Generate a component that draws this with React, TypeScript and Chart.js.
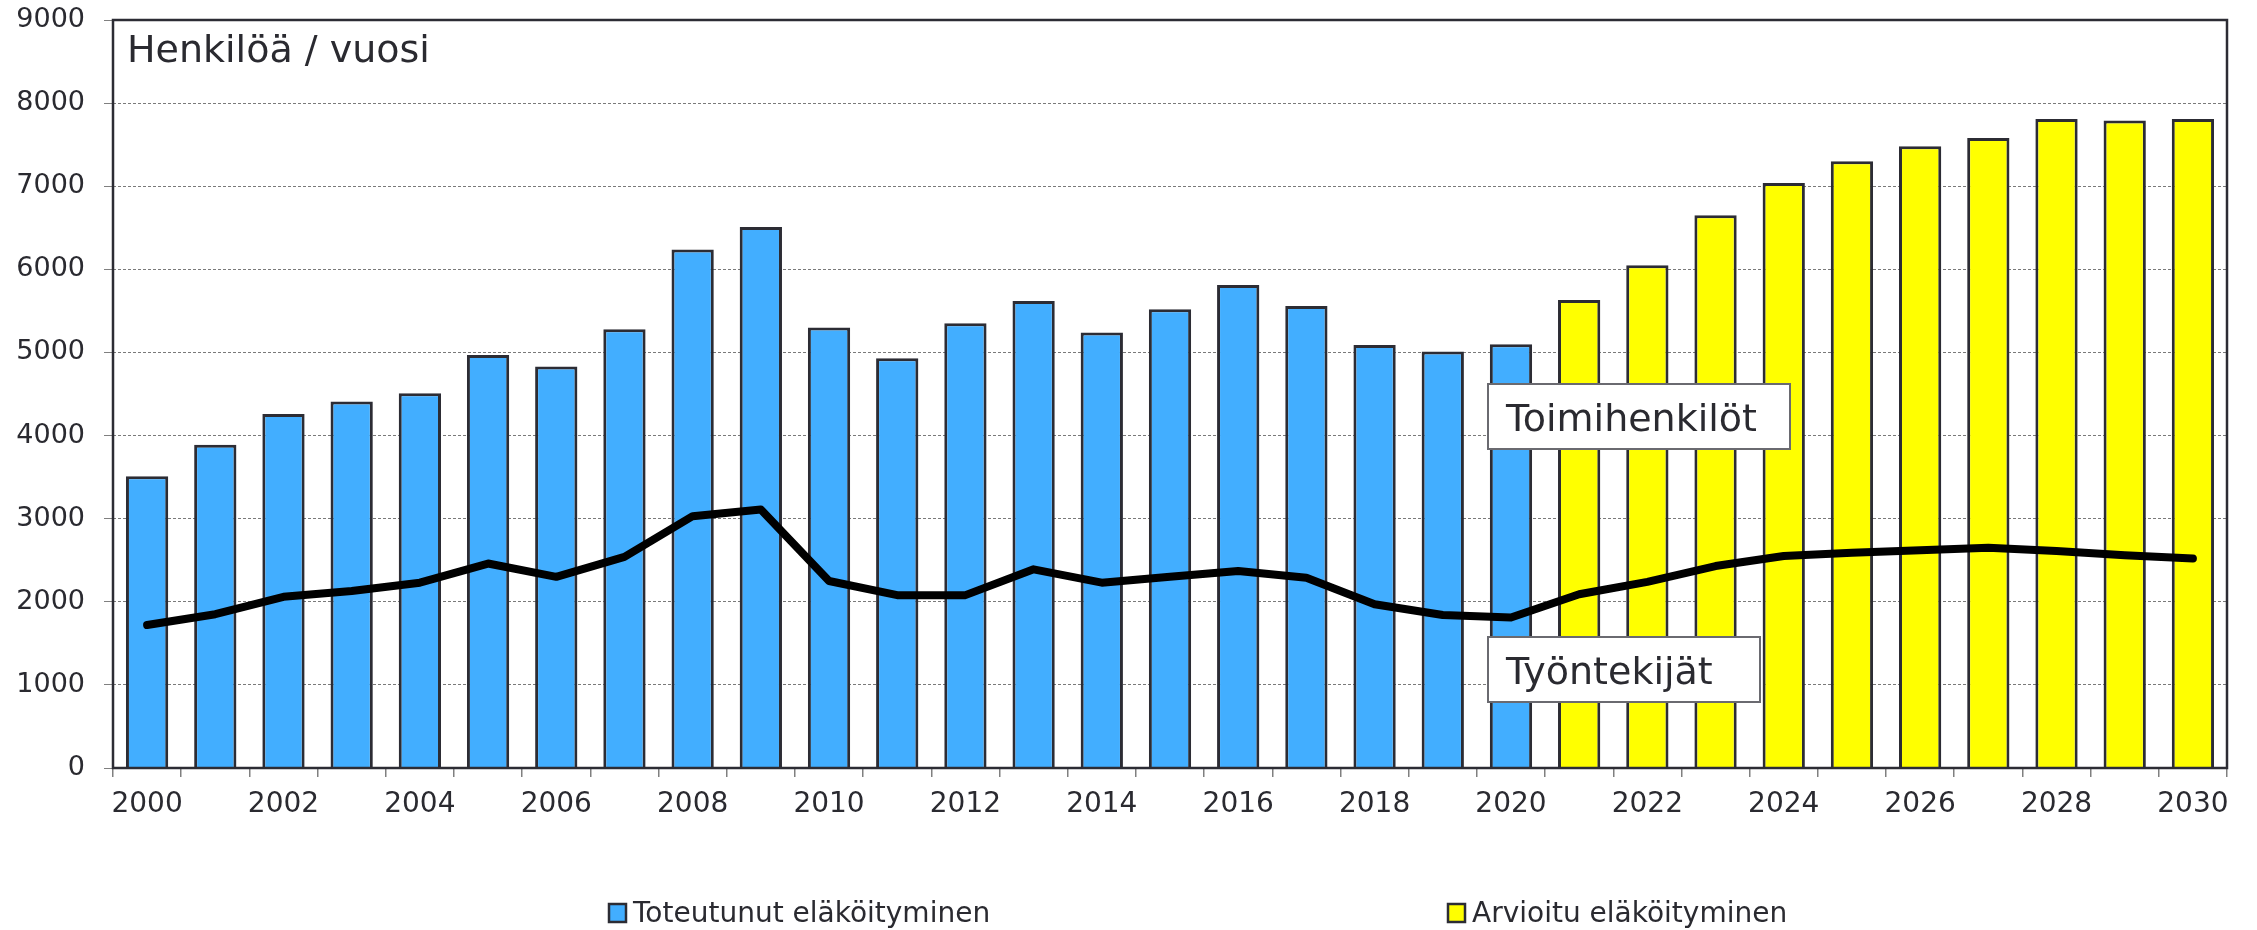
import React, { useEffect, useRef } from "react";
import { Chart, registerables } from "chart.js";

Chart.register(...registerables);

const years = [
  "2000", "2001", "2002", "2003", "2004", "2005", "2006", "2007", "2008", "2009",
  "2010", "2011", "2012", "2013", "2014", "2015", "2016", "2017", "2018", "2019",
  "2020", "2021", "2022", "2023", "2024", "2025", "2026", "2027", "2028", "2029", "2030",
];

// Toteutunut eläköityminen (2000–2020)
const actualRetirements = [
  3510, 3890, 4260, 4410, 4510, 4970, 4830, 5280, 6240, 6510,
  5300, 4930, 5350, 5620, 5240, 5520, 5810, 5560, 5090, 5010, 5100,
];

// Arvioitu eläköityminen (2021–2030)
const projectedRetirements = [5630, 6050, 6650, 7040, 7300, 7480, 7580, 7810, 7790, 7810];

// Työntekijät (line)
const workers = [
  1720, 1850, 2060, 2130, 2230, 2460, 2300, 2540, 3030, 3110,
  2250, 2080, 2080, 2390, 2230, 2300, 2370, 2290, 1970, 1840,
  1810, 2090, 2240, 2430, 2550, 2590, 2620, 2650, 2610, 2560, 2520,
];

const yTicks = [0, 1000, 2000, 3000, 4000, 5000, 6000, 7000, 8000, 9000];

const legendLabels = ["Toteutunut eläköityminen", "Arvioitu eläköityminen"];
const titleText = "Henkilöä / vuosi";
const annotationTexts = ["Toimihenkilöt", "Työntekijät"];

const BLUE = "#42AEFF";
const YELLOW = "#FFFF00";
const EDGE = "#2c2c34";
const TEXT = "#2a2a30";
const FONT = "'DejaVu Sans', Verdana, sans-serif";

export default function App() {
  const ref = useRef<HTMLCanvasElement | null>(null);

  useEffect(() => {
    if (!ref.current) return;
    const nA = actualRetirements.length;
    const actualData = years.map((_, i) => (i < nA ? actualRetirements[i] : null));
    const projData = years.map((_, i) => (i >= nA ? projectedRetirements[i - nA] : null));

    const decorPlugin = {
      id: "decor",
      afterDatasetsDraw(chart: any) {
        const { ctx, chartArea } = chart;
        ctx.save();
        ctx.strokeStyle = EDGE;
        ctx.lineWidth = 2.5;
        ctx.strokeRect(chartArea.left, chartArea.top, chartArea.right - chartArea.left, chartArea.bottom - chartArea.top);
        ctx.restore();
      },
      afterDraw(chart: any) {
        const { ctx, chartArea } = chart;
        ctx.save();
        ctx.fillStyle = TEXT;
        ctx.font = `38px ${FONT}`;
        ctx.textBaseline = "alphabetic";
        ctx.textAlign = "left";
        ctx.fillText(titleText, chartArea.left + 14, chartArea.top + 42);

        const boxes = [
          { x: 1488, y: 384, w: 302, h: 65, text: annotationTexts[0] },
          { x: 1488, y: 637, w: 272, h: 65, text: annotationTexts[1] },
        ];
        for (const b of boxes) {
          ctx.fillStyle = "#ffffff";
          ctx.fillRect(b.x, b.y, b.w, b.h);
          ctx.strokeStyle = "#6a6a70";
          ctx.lineWidth = 2;
          ctx.strokeRect(b.x, b.y, b.w, b.h);
          ctx.fillStyle = TEXT;
          ctx.font = `38px ${FONT}`;
          ctx.fillText(b.text, b.x + 18, b.y + 47);
        }

        const items = [
          { x: 609, color: BLUE, label: legendLabels[0] },
          { x: 1448, color: YELLOW, label: legendLabels[1] },
        ];
        ctx.font = `28px ${FONT}`;
        for (const it of items) {
          ctx.fillStyle = it.color;
          ctx.fillRect(it.x, 904, 17, 18);
          ctx.strokeStyle = EDGE;
          ctx.lineWidth = 2.5;
          ctx.strokeRect(it.x, 904, 17, 18);
          ctx.fillStyle = TEXT;
          ctx.fillText(it.label, it.x + 24, 922);
        }
        ctx.restore();
      },
    };

    const chart = new Chart(ref.current, {
      type: "bar",
      data: {
        labels: years,
        datasets: [
          {
            type: "line",
            label: annotationTexts[1],
            data: workers,
            borderColor: "#000000",
            borderWidth: 8,
            pointRadius: 0,
            tension: 0,
            borderCapStyle: "round",
            borderJoinStyle: "round",
            order: 0,
          } as any,
          {
            label: legendLabels[0],
            data: actualData,
            backgroundColor: BLUE,
            borderColor: EDGE,
            borderWidth: 3,
            grouped: false,
            barPercentage: 0.62,
            categoryPercentage: 1,
            order: 1,
          },
          {
            label: legendLabels[1],
            data: projData,
            backgroundColor: YELLOW,
            borderColor: EDGE,
            borderWidth: 3,
            grouped: false,
            barPercentage: 0.62,
            categoryPercentage: 1,
            order: 1,
          },
        ],
      },
      options: {
        responsive: false,
        animation: false,
        devicePixelRatio: 1,
        layout: { padding: { left: 0, top: 20, right: 30, bottom: 0 } },
        plugins: {
          legend: { display: false },
          tooltip: { enabled: false },
          title: { display: false },
        },
        scales: {
          x: {
            afterFit: (s: any) => {
              s.height = 162;
              s.paddingLeft = 0;
              s.paddingRight = 0;
            },
            border: { display: false },
            grid: {
              offset: true,
              drawOnChartArea: false,
              drawTicks: true,
              tickLength: 9,
              color: "#808080",
              lineWidth: 1.5,
            },
            ticks: {
              autoSkip: false,
              maxRotation: 0,
              minRotation: 0,
              padding: 11,
              color: TEXT,
              font: { family: FONT, size: 28 },
              callback: (_v: any, i: number) => (i % 2 === 0 ? years[i] : ""),
            },
          },
          y: {
            min: yTicks[0],
            max: yTicks[yTicks.length - 1],
            afterFit: (s: any) => {
              s.width = 113;
              s.paddingTop = 0;
              s.paddingBottom = 0;
            },
            afterBuildTicks: (s: any) => {
              s.ticks = yTicks.map((v) => ({ value: v }));
            },
            border: { display: false, dash: [3, 2] },
            grid: {
              color: "#7a7a7a",
              lineWidth: 1,
              drawTicks: true,
              tickLength: 9,
              tickColor: "#808080",
              tickBorderDash: [],
            },
            ticks: {
              padding: 19,
              color: TEXT,
              font: { family: FONT, size: 27 },
              callback: (v: any) => String(v),
            },
          },
        },
      },
      plugins: [decorPlugin],
    });
    return () => chart.destroy();
  }, []);

  return (
    <div style={{ position: "fixed", left: 0, top: 0, width: 2257, height: 930, background: "#fff" }}>
      <canvas ref={ref} width={2257} height={930} style={{ width: 2257, height: 930, display: "block" }} />
    </div>
  );
}
